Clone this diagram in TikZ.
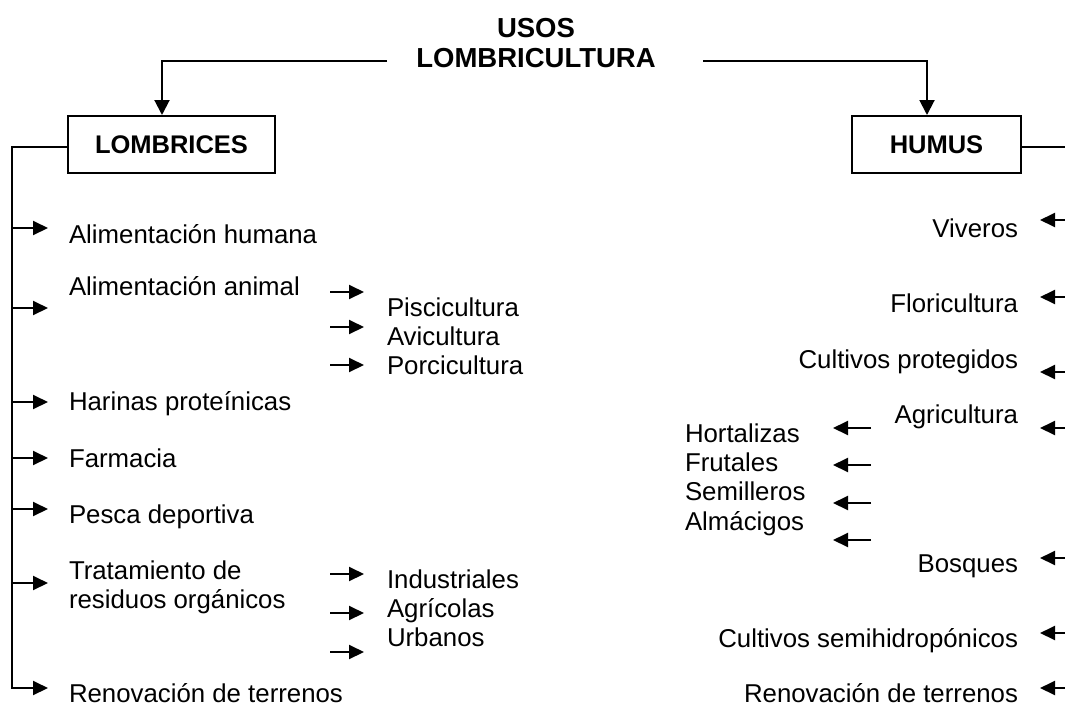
\documentclass[tikz,border=0pt]{standalone}
\usepackage{fontspec}
\setmainfont{Liberation Sans}
\usetikzlibrary{arrows.meta}
\begin{document}
\begin{tikzpicture}[x=1pt,y=-1pt,line width=2pt,
  arr/.style={-{Triangle[length=15pt,width=14pt]}},
  bigarr/.style={-{Triangle[length=15pt,width=15pt]}},
  txt/.style={font=\fontsize{25.8}{29.7}\selectfont,inner sep=0pt},
  lt/.style={txt,anchor=base west},
  rt/.style={txt,anchor=base east},
  ttl/.style={font=\fontsize{27.5}{31}\selectfont\bfseries,inner sep=0pt,anchor=base},
  boxnode/.style={draw,font=\fontsize{25.5}{29}\selectfont\bfseries,inner sep=0pt,minimum height=57pt}]
\useasboundingbox (0,0) rectangle (1065,707);
% title
\node[ttl] (t1) at (536,37) {USOS};
\node[ttl] (t2) at (536,67) {LOMBRICULTURA};
% boxes
\node[boxnode,minimum width=207pt] (lomb) at (171.5,144.5) {LOMBRICES};
\node[boxnode,minimum width=169pt] (hum) at (936.5,144.5) {HUMUS};
% title connectors
\coordinate (tl) at (387,61);
\coordinate (tr) at (703,61);
\draw[bigarr] (tl) -| ([xshift=-9.5pt]lomb.north);
\draw[bigarr] (tr) -| ([xshift=-9.5pt]hum.north);
% left bus
\coordinate (lb) at (12,147);
\coordinate (lbend) at (12,688);
\draw[arr] (lomb.west |- lb) -- (lb) -- (lbend) -- ++(36,0);
\foreach \y in {228,308,402,458,509,583}
  \draw[arr] (12,\y) -- (48,\y);
% left texts
\node[lt] (ah) at (68,243) {Alimentación humana};
\node[lt] (aa) at (68,295) {Alimentación animal};
\node[lt] (hp) at (68,410) {Harinas proteínicas};
\node[lt] (fa) at (68,467) {Farmacia};
\node[lt] (pd) at (68,523) {Pesca deportiva};
\node[lt] (tr1) at (68,579) {Tratamiento de};
\node[lt] (tr2) at (68,608) {residuos orgánicos};
\node[lt] (rl) at (68,702) {Renovación de terrenos};
% left sub items
\node[lt] (pi) at (386,316) {Piscicultura};
\node[lt] (av) at (386,345) {Avicultura};
\node[lt] (po) at (386,374) {Porcicultura};
\node[lt] (in) at (386,588) {Industriales};
\node[lt] (ag) at (386,617) {Agrícolas};
\node[lt] (ur) at (386,646) {Urbanos};
\foreach \y in {292,327,365,574,613,652}
  \draw[arr] (330,\y) -- (364,\y);
% right bus
\coordinate (rb) at (1066,147);
\coordinate (rbend) at (1066,688);
\draw (hum.east |- rb) -- (rb) -- (rbend);
\foreach \y in {220,297,372,428,558,633,688}
  \draw[arr] (1066,\y) -- (1040,\y);
% right texts
\node[rt] (vi) at (1019,237) {Viveros};
\node[rt] (fl) at (1019,312) {Floricultura};
\node[rt] (cp) at (1019,368) {Cultivos protegidos};
\node[rt] (agr) at (1019,423) {Agricultura};
\node[rt] (bo) at (1019,572) {Bosques};
\node[rt] (cs) at (1019,647) {Cultivos semihidropónicos};
\node[rt] (rr) at (1019,702) {Renovación de terrenos};
% right sub items
\node[lt] (ho) at (684,442) {Hortalizas};
\node[lt] (fr) at (684,471) {Frutales};
\node[lt] (se) at (684,500) {Semilleros};
\node[lt] (al) at (684,530) {Almácigos};
\foreach \y in {428,465,503,540}
  \draw[arr] (871,\y) -- (833,\y);
\end{tikzpicture}
\end{document}
